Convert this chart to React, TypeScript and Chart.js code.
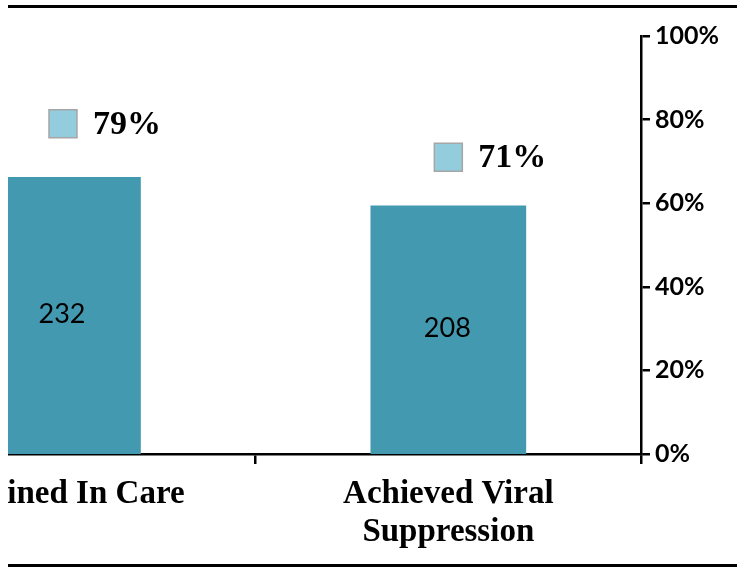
import React, { useEffect, useRef } from "react";
import { Chart, registerables } from "chart.js";

Chart.register(...registerables);

const categories: (string | string[])[] = ["Retained In Care", ["Achieved Viral", "Suppression"]];
const counts: number[] = [232, 208];
const percents: number[] = [0.79, 0.71];
const percentTicks: number[] = [0, 0.2, 0.4, 0.6, 0.8, 1];

const BAR_COLOR = "#4399B0";
const KEY_FILL = "#93CDDD";
const KEY_BORDER = "#A6A6A6";

const labelPlugin = {
  id: "valueLabels",
  afterDatasetsDraw(chart: any) {
    const ctx = chart.ctx;
    ctx.save();
    const barMeta = chart.getDatasetMeta(0);
    ctx.fillStyle = "#000";
    ctx.font = "27px Lato";
    ctx.textAlign = "center";
    ctx.textBaseline = "middle";
    barMeta.data.forEach((el: any, i: number) => {
      const cy = (el.y + el.base) / 2;
      ctx.fillText(String(counts[i]), el.x - 1, cy - 1);
    });
    const ptMeta = chart.getDatasetMeta(1);
    ctx.font = "bold 34px 'Liberation Serif'";
    ctx.textAlign = "left";
    ptMeta.data.forEach((el: any, i: number) => {
      ctx.fillText(Math.round(percents[i] * 100) + "%", el.x + 30, el.y + 1);
    });
    ctx.restore();
  },
};

export default function App() {
  const canvasRef = useRef<HTMLCanvasElement | null>(null);

  useEffect(() => {
    if (!canvasRef.current) return;
    const chart = new Chart(canvasRef.current, {
      type: "bar",
      data: {
        labels: categories as any,
        datasets: [
          {
            type: "bar",
            label: "Count",
            data: counts,
            backgroundColor: BAR_COLOR,
            borderWidth: 0,
            barPercentage: 0.505,
            categoryPercentage: 0.8,
            yAxisID: "y",
            order: 2,
          },
          {
            type: "line",
            label: "Percent",
            data: percents,
            showLine: false,
            pointStyle: "rect",
            pointRadius: 19.8,
            pointHoverRadius: 19.8,
            pointBackgroundColor: KEY_FILL,
            pointBorderColor: KEY_BORDER,
            pointBorderWidth: 1.5,
            yAxisID: "y1",
            order: 1,
          } as any,
        ],
      },
      options: {
        animation: false,
        responsive: true,
        maintainAspectRatio: false,
        layout: { padding: { top: 36, left: 0, right: 0, bottom: 0 } },
        plugins: {
          legend: { display: false },
          tooltip: { enabled: false },
        },
        scales: {
          x: {
            offset: true,
            grid: {
              offset: true,
              drawOnChartArea: false,
              drawTicks: true,
              tickLength: 10,
              color: "#000",
              lineWidth: 2.5,
            },
            border: { display: true, color: "#000", width: 2.5 },
            ticks: {
              color: "#000",
              padding: 11,
              maxRotation: 0,
              autoSkip: false,
              font: { family: "'Liberation Serif'", size: 33, weight: "bold", lineHeight: "38px" } as any,
            },
            afterFit(scale: any) {
              scale.height = 113;
            },
          },
          y: {
            display: false,
            min: 0,
            max: 350,
          },
          y1: {
            position: "right",
            min: 0,
            max: 1,
            afterBuildTicks(scale: any) {
              scale.ticks = percentTicks.map((v) => ({ value: v }));
            },
            grid: {
              drawOnChartArea: false,
              drawTicks: true,
              tickLength: 9,
              color: "#000",
              lineWidth: 2.5,
            },
            border: { display: true, color: "#000", width: 2.5 },
            ticks: {
              color: "#000",
              padding: 5,
              font: { family: "Lato", size: 25, weight: "bold" },
              callback: (v: any) => Math.round(Number(v) * 100) + "%",
            },
            afterFit(scale: any) {
              scale.width = 100;
            },
          },
        },
      },
      plugins: [labelPlugin],
    });
    return () => chart.destroy();
  }, []);

  return (
    <div
      style={{
        position: "absolute",
        left: 8,
        top: 0,
        width: 729,
        height: 567,
        overflow: "hidden",
        background: "#fff",
      }}
    >
      <div style={{ position: "absolute", left: 0, top: 5, width: 729, height: 3, background: "#000" }} />
      <div
        style={{ position: "absolute", left: -159, top: 0, width: 892, height: 567 }}
      >
        <canvas ref={canvasRef} />
      </div>
      <div style={{ position: "absolute", left: 0, top: 564, width: 729, height: 3, background: "#000" }} />
    </div>
  );
}
